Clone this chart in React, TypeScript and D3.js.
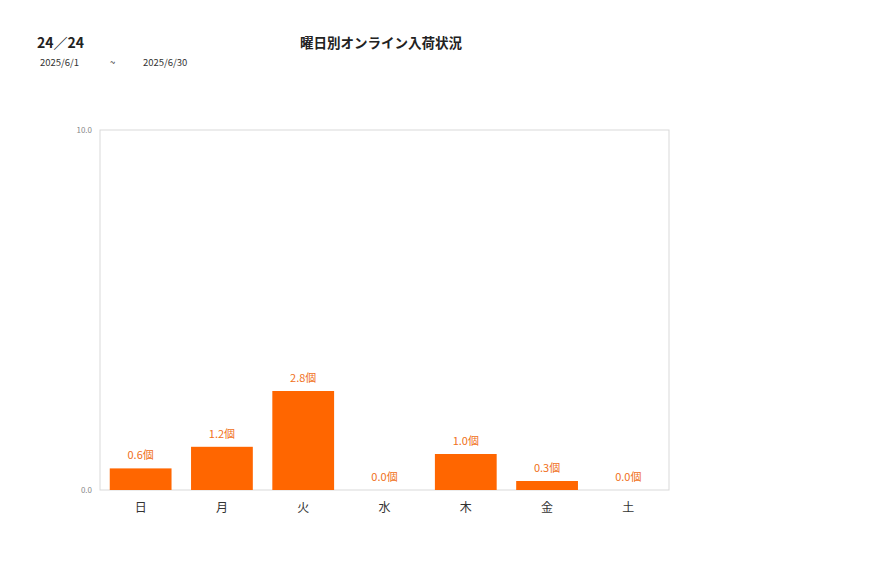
import React from "react";
import * as d3 from "d3";

const days = ["日", "月", "火", "水", "木", "金", "土"];
const counts = [0.6, 1.2, 2.75, 0, 1.0, 0.25, 0];
const yTicks = [0, 10];
const titleLeft = "24／24";
const titleMain = "曜日別オンライン入荷状況";
const dateFrom = "2025/6/1";
const dateTo = "2025/6/30";

const font = "'Noto Sans CJK JP', 'Noto Sans', sans-serif";

export default function App() {
  const width = 877;
  const height = 578;
  const margin = { top: 130, right: 208, bottom: 88, left: 100 };

  const x = d3
    .scaleBand<string>()
    .domain(days)
    .range([margin.left, width - margin.right])
    .paddingInner(0.24)
    .paddingOuter(0.12);

  const y = d3
    .scaleLinear()
    .domain([0, 10])
    .range([height - margin.bottom, margin.top]);

  const fmt = d3.format(".1f");

  return (
    <svg
      width={width}
      height={height}
      style={{ position: "absolute", left: 0, top: 0 }}
      fontFamily={font}
    >
      <rect width={width} height={height} fill="#fff" />
      <text x={37} y={48} fontSize={14} fontWeight="bold" fill="#222">
        {titleLeft}
      </text>
      <text x={381} y={48} fontSize={13.5} fontWeight="bold" fill="#222" textAnchor="middle">
        {titleMain}
      </text>
      <text x={40} y={66} fontSize={9.5} fill="#333">{dateFrom}</text>
      <text x={110} y={66} fontSize={9.5} fill="#333">~</text>
      <text x={143} y={66} fontSize={9.5} fill="#333">{dateTo}</text>

      {/* plot frame */}
      <rect
        x={margin.left}
        y={margin.top}
        width={width - margin.left - margin.right}
        height={height - margin.top - margin.bottom}
        fill="none"
        stroke="#d9d9d9"
      />

      {yTicks.map((t) => (
        <text
          key={t}
          x={margin.left - 8}
          y={y(t) + 3}
          fontSize={8}
          fill="#888"
          textAnchor="end"
        >
          {fmt(t)}
        </text>
      ))}

      {days.map((d, i) => (
        <g key={d}>
          <rect
            x={x(d)}
            y={y(counts[i])}
            width={x.bandwidth()}
            height={y(0) - y(counts[i])}
            fill="#ff6600"
          />
          <text
            x={(x(d) ?? 0) + x.bandwidth() / 2}
            y={y(counts[i]) - 9}
            fontSize={11}
            fill="#f07020"
            textAnchor="middle"
          >
            {fmt(counts[i])}個
          </text>
          <text
            x={(x(d) ?? 0) + x.bandwidth() / 2}
            y={y(0) + 22}
            fontSize={12}
            fill="#333"
            textAnchor="middle"
          >
            {d}
          </text>
        </g>
      ))}
    </svg>
  );
}
